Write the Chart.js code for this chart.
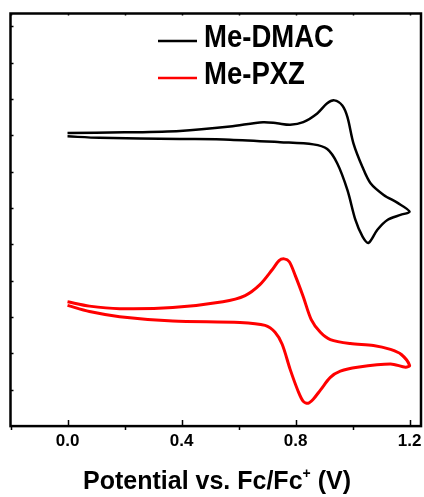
<!DOCTYPE html>
<html>
<head>
<meta charset="utf-8">
<script src="https://cdn.jsdelivr.net/npm/chart.js@4.4.1/dist/chart.umd.min.js"></script>
<style>
    html, body { margin: 0; padding: 0; background: #fff; }
    #wrap { width: 424px; height: 497px; }
</style>
</head>
<body>
<div id="wrap"><canvas id="cvChart" width="424" height="497"></canvas></div>
<script>
// Cyclic voltammetry data (potential in V vs Fc/Fc+, current in arbitrary units)
const dmacPotential = [0.0, 0.2, 0.394, 0.570, 0.686, 0.735, 0.781, 0.827, 0.876, 0.911, 0.936, 0.964, 0.982, 1.003, 1.035, 1.063, 1.109, 1.158, 1.200,
    1.168, 1.122, 1.087, 1.056, 1.035, 1.010, 0.982, 0.946, 0.911, 0.862, 0.746, 0.570, 0.394, 0.113, 0.0];
const dmacCurrent = [8.06, 8.08, 8.12, 8.24, 8.36, 8.33, 8.29, 8.36, 8.60, 8.88, 8.96, 8.82, 8.50, 7.78, 7.12, 6.68, 6.36, 6.14, 5.90,
    5.81, 5.67, 5.40, 5.04, 5.21, 5.67, 6.49, 7.23, 7.62, 7.75, 7.81, 7.88, 7.90, 7.93, 7.97];

const pxzPotential = [0.0, 0.077, 0.183, 0.369, 0.545, 0.623, 0.675, 0.718, 0.742, 0.760, 0.778, 0.799, 0.827, 0.855, 0.887, 0.922, 0.992, 1.073, 1.133, 1.171, 1.200,
    1.186, 1.133, 1.017, 0.957, 0.922, 0.887, 0.862, 0.844, 0.827, 0.809, 0.781, 0.753, 0.728, 0.693, 0.605, 0.369, 0.183, 0.077, 0.0];
const pxzCurrent = [3.42, 3.30, 3.23, 3.26, 3.42, 3.59, 3.89, 4.30, 4.55, 4.60, 4.52, 4.14, 3.56, 2.93, 2.58, 2.38, 2.27, 2.22, 2.11, 1.97, 1.67,
    1.62, 1.71, 1.62, 1.51, 1.34, 0.99, 0.74, 0.63, 0.68, 0.96, 1.56, 2.25, 2.58, 2.77, 2.85, 2.89, 3.01, 3.15, 3.32];

const seriesNames = ["Me-DMAC", "Me-PXZ"];
const seriesColors = ["#000000", "#ff0000"];

const xTickValues = [-0.2, 0.0, 0.2, 0.4, 0.6, 0.8, 1.0, 1.2];
const xLabelValues = [0.0, 0.4, 0.8, 1.2];
const yTickValues = [1, 2, 3, 4, 5, 6, 7, 8, 9, 10, 11];

const FONT = "'Liberation Sans', Arial, Helvetica, sans-serif";

function toPoints(xs, ys) {
    return xs.map((x, i) => ({ x: x, y: ys[i] }));
}

// frame, tick marks, legend and axis title
const decorPlugin = {
    id: "decor",
    afterDraw(chart) {
        const ctx = chart.ctx;
        const area = chart.chartArea;
        const xs = chart.scales.x;
        const ys = chart.scales.y;
        ctx.save();
        ctx.strokeStyle = "#000";

        // ticks
        ctx.lineWidth = 1.5;
        xTickValues.forEach((v) => {
            const px = Math.round(xs.getPixelForValue(v)) + 0.5;
            const major = xLabelValues.some((m) => Math.abs(m - v) < 1e-6);
            ctx.beginPath();
            if (major) {
                ctx.moveTo(px, area.bottom);
                ctx.lineTo(px, area.bottom - 6);
            } else {
                ctx.moveTo(px, area.bottom);
                ctx.lineTo(px, area.bottom + 4);
            }
            ctx.moveTo(px, area.top);
            ctx.lineTo(px, area.top + 2);
            ctx.stroke();
        });
        yTickValues.forEach((v) => {
            const py = Math.round(ys.getPixelForValue(v)) + 0.5;
            ctx.beginPath();
            ctx.moveTo(area.left, py);
            ctx.lineTo(area.left + 3, py);
            ctx.stroke();
        });

        // frame
        ctx.lineWidth = 2.5;
        ctx.strokeRect(area.left, area.top, area.right - area.left, area.bottom - area.top);

        // legend
        ctx.font = "bold 32px " + FONT;
        ctx.textBaseline = "alphabetic";
        ctx.textAlign = "left";
        seriesNames.forEach((name, i) => {
            const lineY = 41 + i * 37;
            ctx.strokeStyle = seriesColors[i];
            ctx.lineWidth = 2.5;
            ctx.beginPath();
            ctx.moveTo(158, lineY);
            ctx.lineTo(197, lineY);
            ctx.stroke();
            ctx.save();
            ctx.translate(204, 47 + i * 37);
            ctx.scale(0.86, 1);
            ctx.fillStyle = "#000";
            ctx.fillText(name, 0, 0);
            ctx.restore();
        });

        // x axis title with superscript
        const partA = "Potential vs. Fc/Fc";
        const sup = "+";
        const partB = " (V)";
        ctx.fillStyle = "#000";
        ctx.font = "bold 25px " + FONT;
        const wA = ctx.measureText(partA).width;
        const wB = ctx.measureText(partB).width;
        ctx.font = "bold 14px " + FONT;
        const wS = ctx.measureText(sup).width;
        const total = wA + wS + wB;
        let tx = 217 - total / 2;
        const baseY = 489;
        ctx.font = "bold 25px " + FONT;
        ctx.fillText(partA, tx, baseY);
        tx += wA;
        ctx.font = "bold 14px " + FONT;
        ctx.fillText(sup, tx, baseY - 11);
        tx += wS;
        ctx.font = "bold 25px " + FONT;
        ctx.fillText(partB, tx, baseY);
        ctx.restore();
    },
};

function renderCvChart() {
    const ctx = document.getElementById("cvChart").getContext("2d");
    new Chart(ctx, {
        type: "scatter",
        data: {
            datasets: [
                {
                    label: seriesNames[0],
                    data: toPoints(dmacPotential, dmacCurrent),
                    showLine: true,
                    borderColor: seriesColors[0],
                    borderWidth: 2.5,
                    pointRadius: 0,
                    tension: 0.3,
                    fill: false,
                },
                {
                    label: seriesNames[1],
                    data: toPoints(pxzPotential, pxzCurrent),
                    showLine: true,
                    borderColor: seriesColors[1],
                    borderWidth: 3,
                    pointRadius: 0,
                    tension: 0.3,
                    fill: false,
                },
            ],
        },
        options: {
            responsive: false,
            animation: false,
            devicePixelRatio: 1,
            layout: {
                padding: { left: 10.5, right: 3, top: 13.5, bottom: 48.5 },
            },
            plugins: {
                legend: { display: false },
                tooltip: { enabled: false },
            },
            scales: {
                x: {
                    type: "linear",
                    min: -0.2,
                    max: 1.24,
                    afterBuildTicks: (scale) => {
                        scale.ticks = xTickValues.map((v) => ({ value: v }));
                    },
                    ticks: {
                        autoSkip: false,
                        maxRotation: 0,
                        padding: -3,
                        color: "#000",
                        font: { family: FONT, size: 17, weight: "bold" },
                        callback: (value) =>
                            xLabelValues.some((m) => Math.abs(m - value) < 1e-6) ? Number(value).toFixed(1) : "",
                    },
                    grid: { display: false },
                    border: { display: false },
                },
                y: {
                    type: "linear",
                    display: false,
                    min: 0,
                    max: 11.35,
                },
            },
        },
        plugins: [decorPlugin],
    });
}

document.addEventListener("DOMContentLoaded", () => {
    renderCvChart();
});
</script>
</body>
</html>
